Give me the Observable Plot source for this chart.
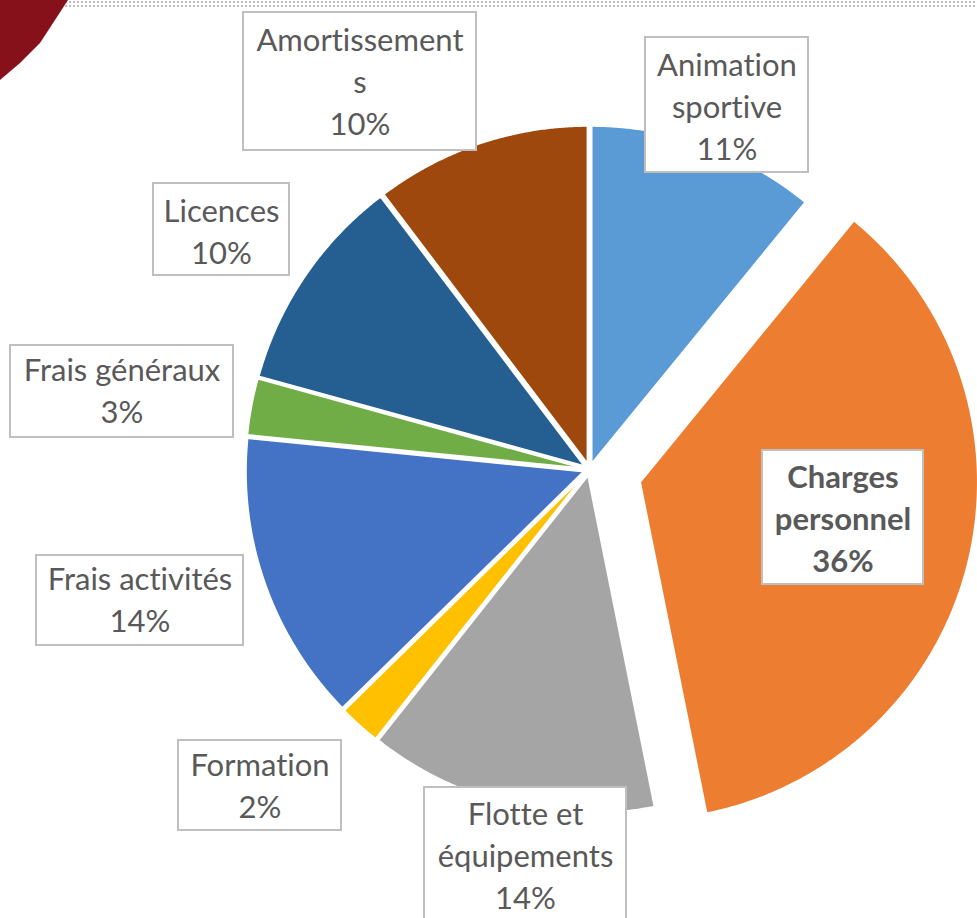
<!DOCTYPE html>
<html><head><meta charset="utf-8">
<script src="https://cdn.jsdelivr.net/npm/d3@7"></script>
<script src="https://cdn.jsdelivr.net/npm/@observablehq/plot@0.6"></script>
<style>
html,body{margin:0;padding:0;background:#fff;}
#wrap{position:relative;width:977px;height:918px;overflow:hidden;}
#dots{position:absolute;left:0;top:0;width:977px;height:8px;background-image:radial-gradient(circle,#bdbdbd 0.9px,transparent 1.3px);background-size:4px 4px;}
#corner{position:absolute;left:0;top:0;width:80px;height:90px;background:#87111a;clip-path:polygon(0 0,68px 0,55px 20px,40px 43px,20px 63px,0 80px);}
#chart{position:absolute;left:0;top:0;}
svg text{font-variant-ligatures:none;font-feature-settings:"liga" 0;}
</style>
</head><body>
<div id="wrap"><div id="dots"></div><div id="chart"></div><div id="corner"></div></div>
<script>
// ---- data ----
const categories = ["Animation sportive","Charges personnel","Flotte et équipements","Formation","Frais activités","Frais généraux","Licences","Amortissements"];
const values = [10.9, 35.9, 13.8, 2.0, 13.9, 2.7, 10.4, 10.3];
const labelLines = ["Animation\nsportive","Charges\npersonnel","Flotte et\néquipements","Formation","Frais activités","Frais généraux","Licences","Amortissement\ns"];
const colors = ["#5B9BD5","#ED7D31","#A5A5A5","#FFC000","#4472C4","#70AD47","#255E91","#9E480E"];
const boldLabel = [false,true,false,false,false,false,false,false];

// ---- layout (pixels) ----
const W = 977, H = 918;
const cx = 589, cy = 469, R = 338;
const explode = [6, 52, 6, 6, 6, 6, 6, 6];
const boxes = [
  {x1:645, x2:808, y1:37,  y2:172, ty:104},
  {x1:762, x2:923, y1:450, y2:584, ty:516},
  {x1:424, x2:626, y1:787, y2:960, ty:853},
  {x1:178, x2:341, y1:740, y2:830, ty:783},
  {x1:36,  x2:243, y1:555, y2:645, ty:597},
  {x1:10,  x2:233, y1:345, y2:437, ty:388},
  {x1:153, x2:289, y1:183, y2:275, ty:229},
  {x1:243, x2:476, y1:12,  y2:150, ty:79}
];

const total = d3.sum(values);
const rows = categories.map((c,i)=>({key:c, value:values[i], i}));
const arcs = d3.pie().sort(null).value(d=>d.value)(rows);

const pts = [];
arcs.forEach(a=>{
  const i = a.data.i, mid = (a.startAngle+a.endAngle)/2;
  const ox = cx + explode[i]*Math.sin(mid), oy = cy - explode[i]*Math.cos(mid);
  pts.push({key:a.data.key, x:ox, y:oy});
  const n = Math.max(2, Math.ceil((a.endAngle-a.startAngle)/0.005));
  for (let k=0;k<=n;k++){
    const t = a.startAngle + (a.endAngle-a.startAngle)*k/n;
    pts.push({key:a.data.key, x:ox+R*Math.sin(t), y:oy-R*Math.cos(t)});
  }
});

const labels = categories.map((c,i)=>({
  key:c,
  text: labelLines[i] + "\n" + Math.round(values[i]/total*100) + "%",
  bold: boldLabel[i],
  x1:boxes[i].x1, x2:boxes[i].x2, y1:boxes[i].y1, y2:boxes[i].y2,
  tx:(boxes[i].x1+boxes[i].x2)/2, ty:boxes[i].ty
}));

const chart = Plot.plot({
  width:W, height:H,
  margin:0,
  x:{domain:[0,W], range:[0,W], axis:null},
  y:{domain:[0,H], range:[0,H], axis:null},
  color:{domain:categories, range:colors},
  style:{fontFamily:"Lato, 'Noto Sans', sans-serif", background:"transparent"},
  marks:[
    Plot.line(pts, {x:"x", y:"y", z:"key", fill:"key", stroke:"white", strokeWidth:2, curve:"linear-closed", strokeLinejoin:"round"}),
    Plot.rect(labels, {x1:"x1", x2:"x2", y1:"y1", y2:"y2", fill:"white", stroke:"#bfbfbf", strokeWidth:2}),
    Plot.text(labels.filter(d=>!d.bold), {x:"tx", y:"ty", text:"text", fontSize:31, lineHeight:1.36, fill:"#595959", lineAnchor:"middle"}),
    Plot.text(labels.filter(d=>d.bold), {x:"tx", y:"ty", text:"text", fontSize:31, lineHeight:1.36, fill:"#595959", fontWeight:"bold", lineAnchor:"middle"})
  ]
});
document.getElementById("chart").appendChild(chart);
</script>
</body></html>
